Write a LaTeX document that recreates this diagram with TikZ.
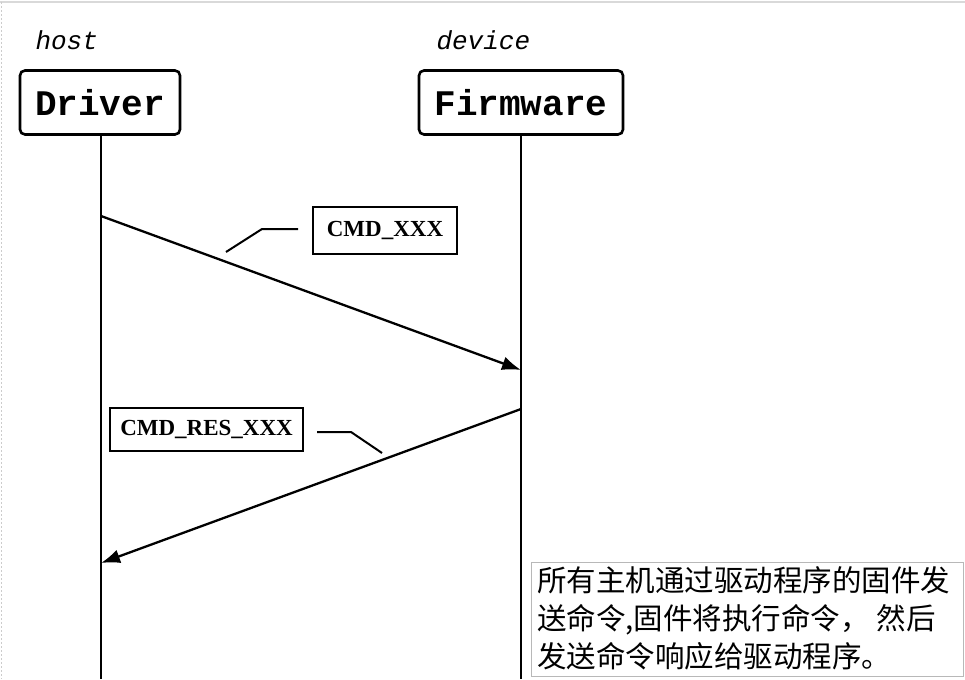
\documentclass[tikz,border=0pt]{standalone}
\usepackage{fontspec}
\setmainfont{Liberation Serif}
\setmonofont{Liberation Mono}
\newfontfamily\cjk{Noto Sans CJK SC}
\usetikzlibrary{arrows.meta}
\begin{document}
\begin{tikzpicture}[x=1pt,y=-1pt,
  actor/.style={draw,line width=2.6pt,rounded corners=5pt,fill=white,minimum width=#1,minimum height=64pt,inner sep=0pt,font=\fontsize{36}{36}\selectfont\ttfamily\bfseries},
  role/.style={font=\fontsize{26}{26}\selectfont\ttfamily\itshape,anchor=base west},
  life/.style={line width=1.3pt},
  msg/.style={line width=2.3pt,-{Latex[length=19pt,width=14pt]}},
  msglabel/.style={draw,line width=1.2pt,inner sep=0pt,font=\fontsize{23}{23}\selectfont\bfseries},
  leader/.style={line width=2pt},
  notebox/.style={draw=black!28,line width=1pt,inner sep=0pt,anchor=north west}
]
\useasboundingbox (0,0) rectangle (965,679);
\fill[white] (0,0) rectangle (965,679);
\draw[black!15,line width=1.5pt] (0,2) -- (965,2);
\draw[black!20,line width=1pt,dash pattern=on 2pt off 2pt] (1,2) -- (1,679);

\node[role] (hostl) at (32,50) {host};
\node[role] (devl) at (433,50) {device};

\node[actor=160pt] (drv) at (100,102.5) {Driver};
\node[actor=204pt] (fw) at (521,102.5) {Firmware};

\coordinate (drvend) at (101,679);
\coordinate (fwend) at (521,679);
\draw[life] (drv.south -| drvend) -- (drvend);
\draw[life] (fw.south -| fwend) -- (fwend);

\coordinate (m1s) at (101,216);
\coordinate (m1e) at (521,370);
\coordinate (m2s) at (521,409);
\coordinate (m2e) at (101,563);
\draw[msg] (m1s) -- (m1e);
\draw[msg] (m2s) -- (m2e);

\node[msglabel,minimum width=144pt,minimum height=47pt] (l1) at (385,230.5) {CMD\_XXX};
\node[msglabel,minimum width=193pt,minimum height=43pt] (l2) at (206.5,429.5) {CMD\_RES\_XXX};

\coordinate (k1a) at (226,252);
\coordinate (k1b) at (262,229);
\draw[leader] (k1a) -- (k1b) -- (k1b -| {298,0});
\coordinate (k2a) at (317,432);
\coordinate (k2b) at (351,432);
\draw[leader] (k2a) -- (k2b) -- (382,453);

\node[notebox,minimum width=432pt,minimum height=114pt] (note) at (531,562) {};
\node[anchor=north west,inner sep=0pt,align=left,font=\cjk\fontsize{29.5}{38}\selectfont] (notetext) at (537,566)
{所有主机通过驱动程序的固件发\\送命令,固件将执行命令， 然后\\发送命令响应给驱动程序。};
\end{tikzpicture}
\end{document}
